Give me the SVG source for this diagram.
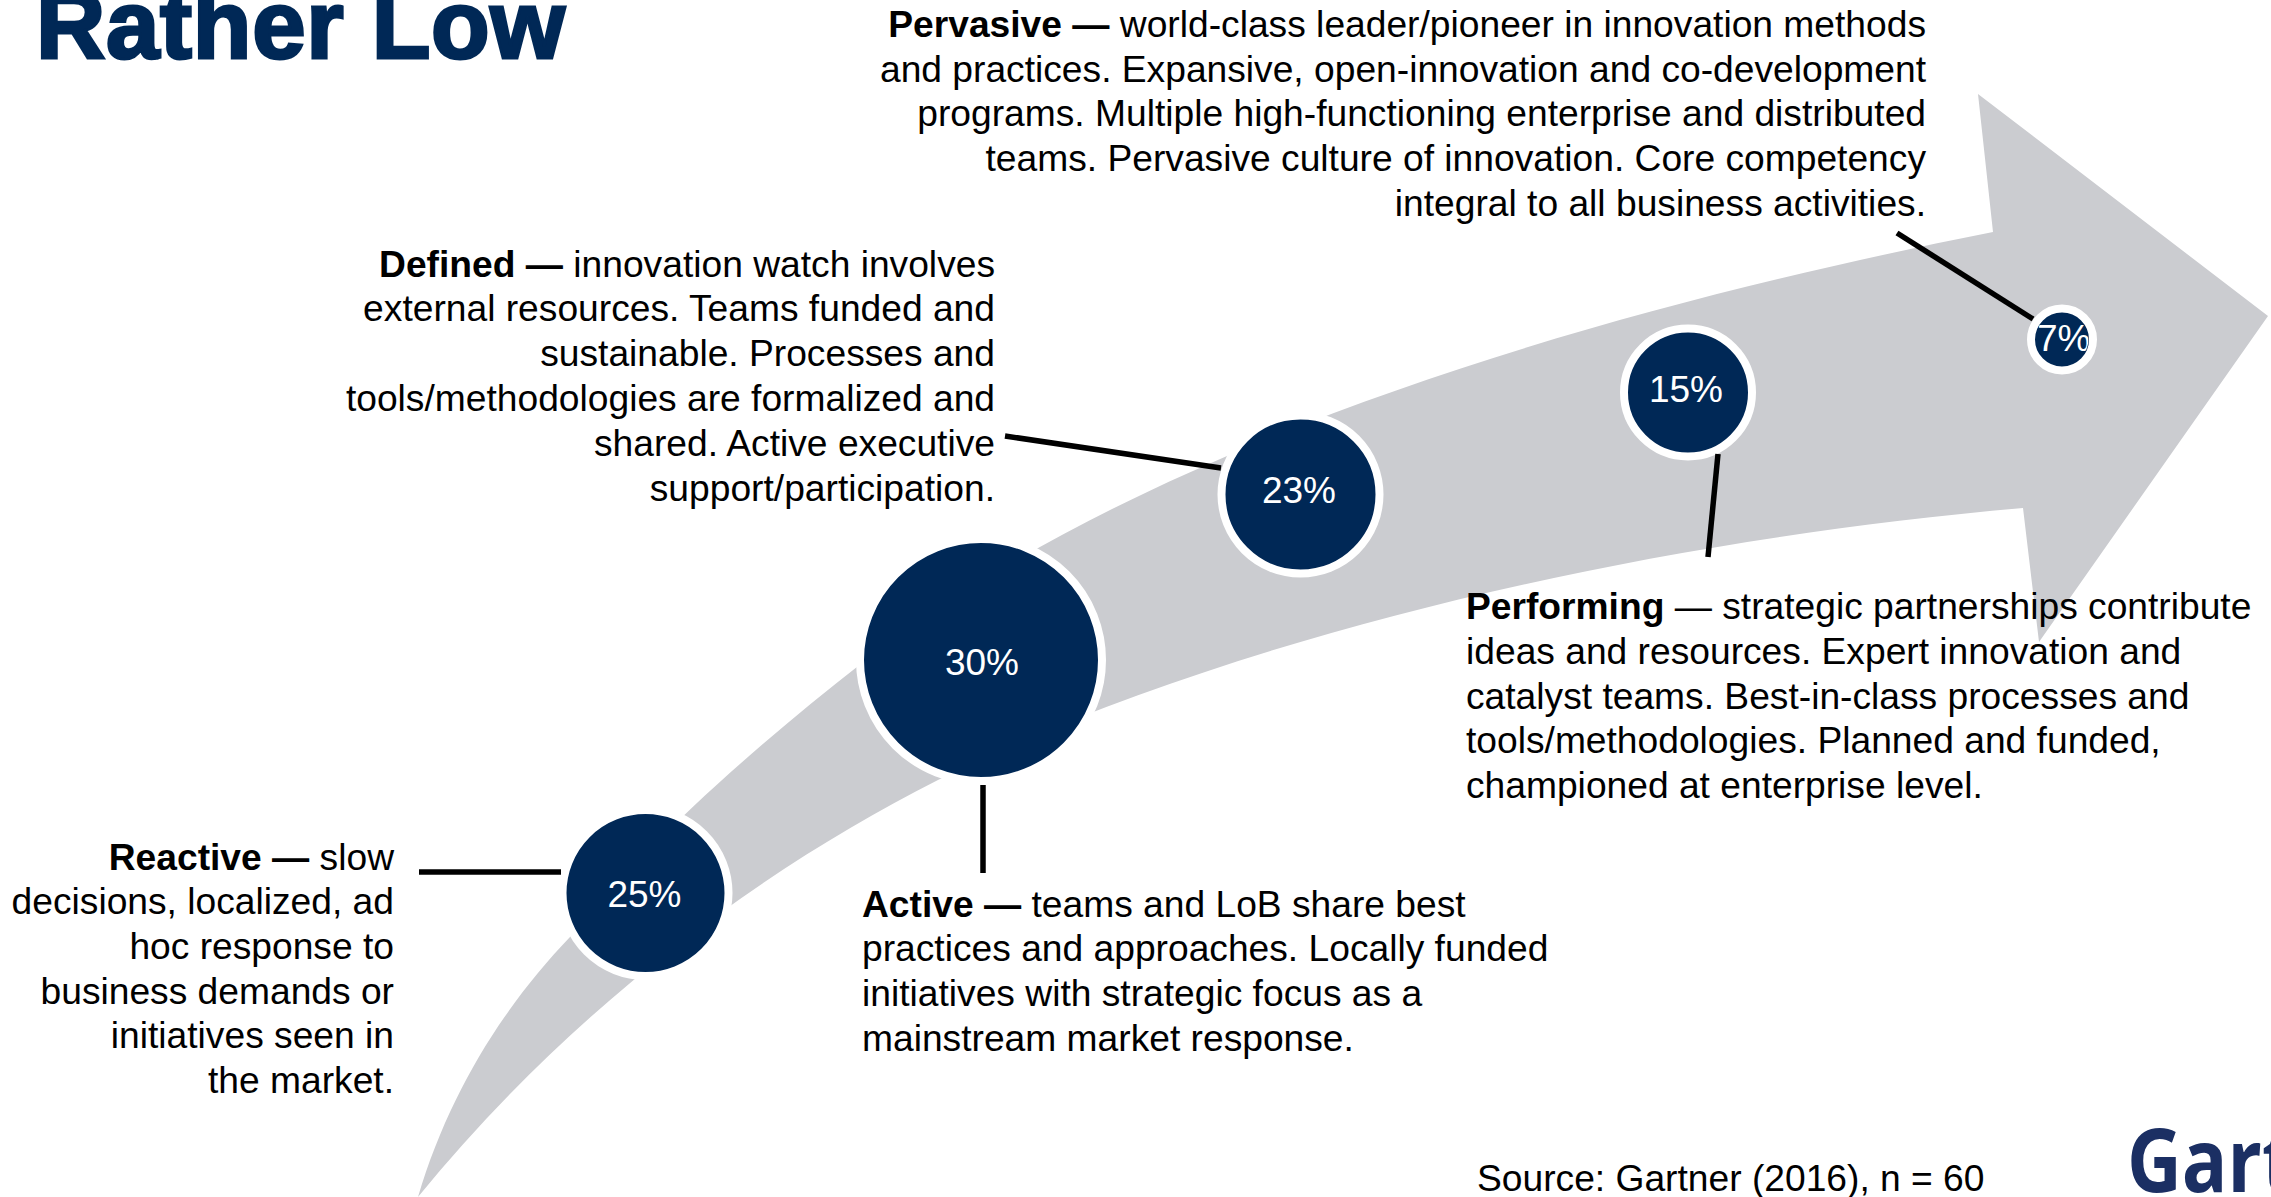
<svg xmlns="http://www.w3.org/2000/svg" width="2271" height="1197" viewBox="0 0 2271 1197">
<style>
text{font-family:"Liberation Sans",Arial,sans-serif;font-size:37.2px;fill:#000}
.b{font-weight:700}
.e{text-anchor:end}
.pct{fill:#fff;text-anchor:middle;font-size:37px}
.ring{fill:#002856;stroke:#fff;stroke-width:8}
.ln{stroke:#000;stroke-width:5.5;fill:none}
</style>
<defs><clipPath id="c7"><circle cx="2062" cy="339" r="26.5"/></clipPath></defs>
<rect width="2271" height="1197" fill="#fff"/>
<path id="arrow" fill="#cbccd0" d="M418,1197C450,1090 505,1005 570,937C640,850 750,750 862,663C1150,440 1600,310 1993,232L1978,94L2268,316L2039,642L2023,508C1600,545 1200,650 938,780C760,870 570,1010 418,1197Z"/>
<text id="title" x="36" y="58" class="b" style="font-size:96px;letter-spacing:.7px;fill:#002856;stroke:#002856;stroke-width:3">Rather Low</text>
<g id="node-reactive"><circle class="ring" cx="645.5" cy="893" r="83"/><text class="pct" x="644.5" y="907">25%</text>
<text class="e"><tspan x="394" y="869.5"><tspan class="b">Reactive — </tspan>slow</tspan><tspan x="394" y="914">decisions, localized, ad</tspan><tspan x="394" y="958.5">hoc response to</tspan><tspan x="394" y="1003.5">business demands or</tspan><tspan x="394" y="1048">initiatives seen in</tspan><tspan x="394" y="1093">the market.</tspan></text></g>
<g id="node-active"><circle class="ring" cx="981" cy="660" r="121"/><text class="pct" x="982" y="675">30%</text>
<text><tspan x="862" y="916.5"><tspan class="b">Active — </tspan>teams and LoB share best</tspan><tspan x="862" y="961">practices and approaches. Locally funded</tspan><tspan x="862" y="1006">initiatives with strategic focus as a</tspan><tspan x="862" y="1050.5">mainstream market response.</tspan></text></g>
<g id="node-defined"><circle class="ring" cx="1300.5" cy="494.5" r="79"/><text class="pct" x="1299" y="502.5">23%</text>
<text class="e"><tspan x="995" y="276.5"><tspan class="b">Defined — </tspan>innovation watch involves</tspan><tspan x="995" y="321">external resources. Teams funded and</tspan><tspan x="995" y="365.5">sustainable. Processes and</tspan><tspan x="995" y="410.5">tools/methodologies are formalized and</tspan><tspan x="995" y="455.5">shared. Active executive</tspan><tspan x="995" y="500.5">support/participation.</tspan></text></g>
<g id="node-performing"><circle class="ring" cx="1688" cy="392.5" r="64"/><text class="pct" x="1686" y="402">15%</text>
<text><tspan x="1466" y="619"><tspan class="b">Performing </tspan>— strategic partnerships contribute</tspan><tspan x="1466" y="664">ideas and resources. Expert innovation and</tspan><tspan x="1466" y="709">catalyst teams. Best-in-class processes and</tspan><tspan x="1466" y="753">tools/methodologies. Planned and funded,</tspan><tspan x="1466" y="798">championed at enterprise level.</tspan></text></g>
<g id="node-pervasive"><circle class="ring" cx="2062" cy="339.5" r="31"/><text class="pct" style="text-anchor:start" x="2037" y="351" clip-path="url(#c7)">7%</text>
<text class="e"><tspan x="1926" y="37"><tspan class="b">Pervasive — </tspan>world-class leader/pioneer in innovation methods</tspan><tspan x="1926" y="81.5">and practices. Expansive, open-innovation and co-development</tspan><tspan x="1926" y="126">programs. Multiple high-functioning enterprise and distributed</tspan><tspan x="1926" y="171">teams. Pervasive culture of innovation. Core competency</tspan><tspan x="1926" y="215.5">integral to all business activities.</tspan></text></g>
<g id="connectors">
<line class="ln" x1="419" y1="872" x2="561" y2="872"/>
<line class="ln" x1="983" y1="785" x2="983" y2="873"/>
<line class="ln" x1="1005" y1="436" x2="1221" y2="468"/>
<line class="ln" x1="1718" y1="454" x2="1708" y2="557"/>
<line class="ln" x1="1897" y1="233" x2="2033" y2="319"/>
</g>
<text id="source" x="1477" y="1191">Source: Gartner (2016), n = 60</text>
<text id="logo" transform="translate(2127,1192) scale(.87,1)" style="font-family:'Open Sans',sans-serif;font-weight:700;font-size:87px;fill:#1b2f63">Gartner</text>
</svg>
